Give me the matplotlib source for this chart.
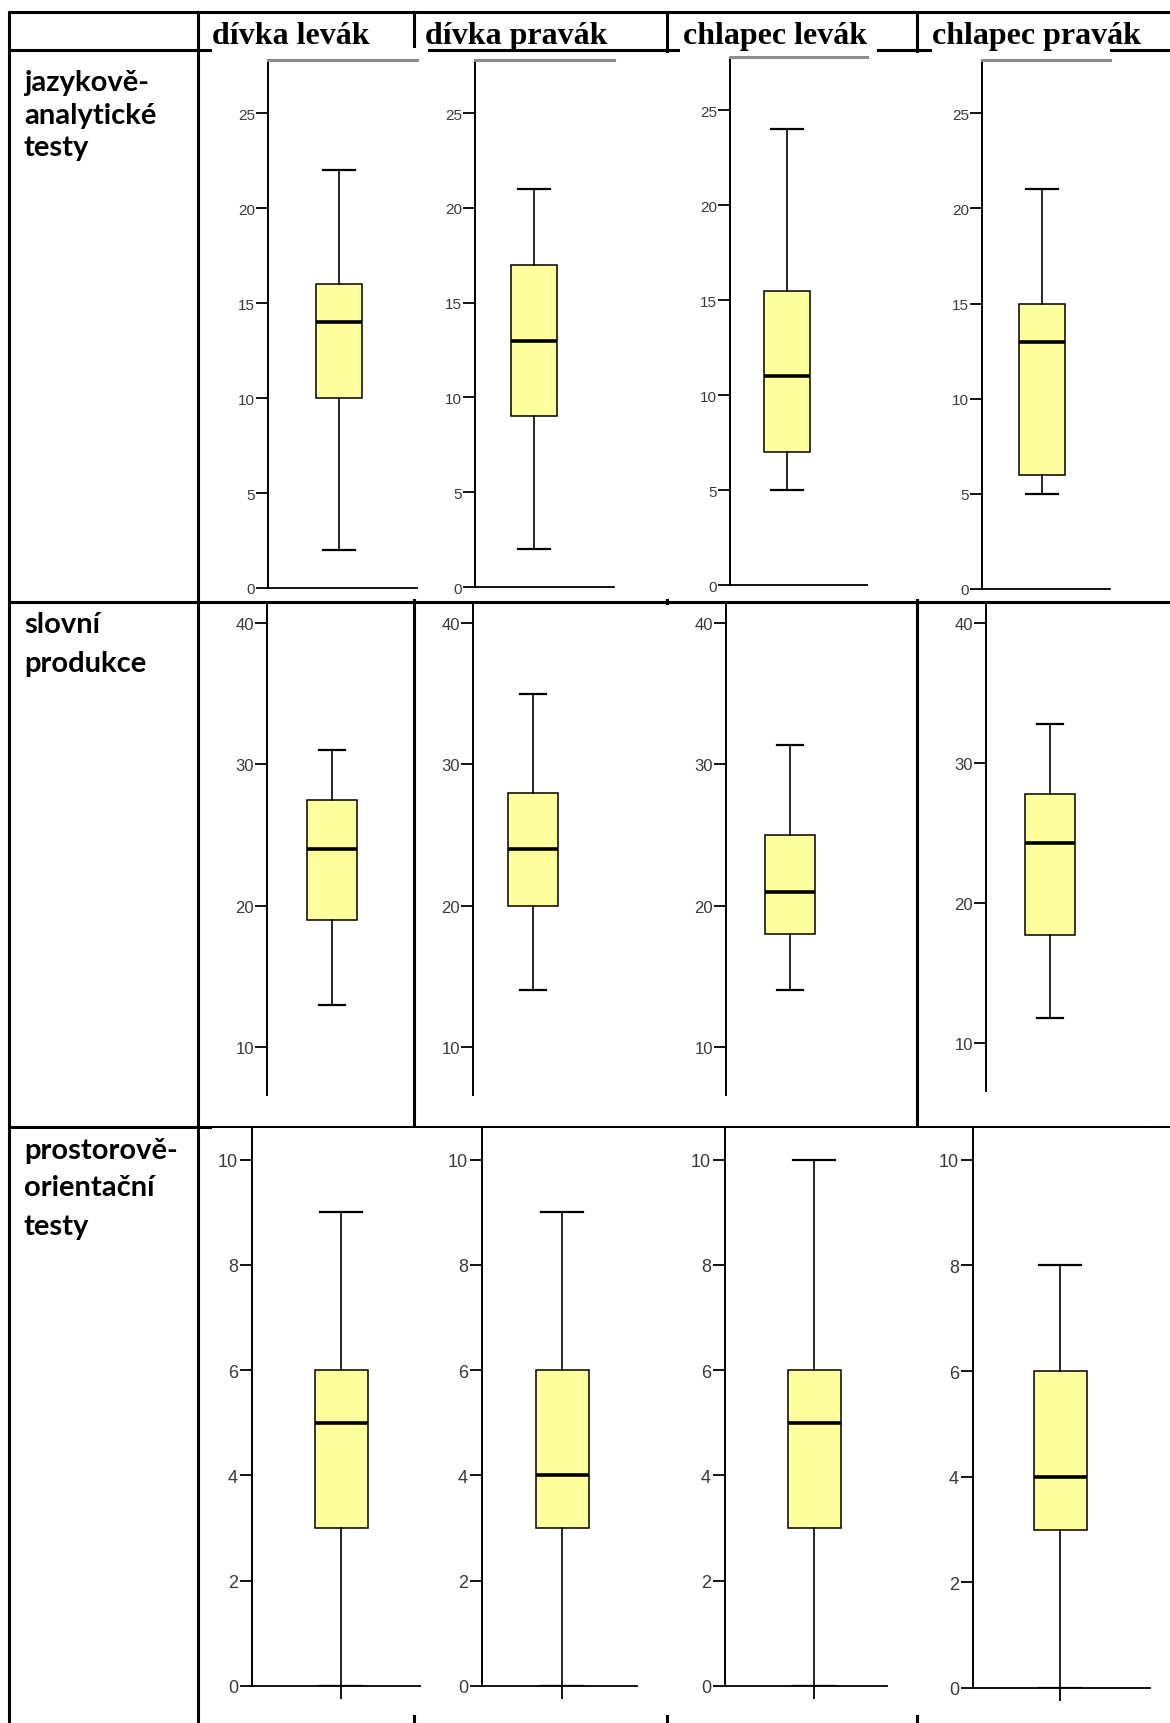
import matplotlib.pyplot as plt
from matplotlib.lines import Line2D
from matplotlib.patches import Rectangle

W, H = 1170, 1724

columns = ["dívka levák", "dívka pravák", "chlapec levák", "chlapec pravák"]
row_labels = [["jazykově-", "analytické", "testy"],
              ["slovní", "produkce"],
              ["prostorově-", "orientační", "testy"]]

# box statistics, one list per row (order of columns as above)
jazyk_lo = [2, 2, 5, 5]
jazyk_q1 = [10, 9, 7, 6]
jazyk_med = [14, 13, 11, 13]
jazyk_q3 = [16, 17, 15.5, 15]
jazyk_hi = [22, 21, 24, 21]

slovni_lo = [13, 14, 14, 11.8]
slovni_q1 = [19, 20, 18, 17.7]
slovni_med = [24, 24, 21, 24.3]
slovni_q3 = [27.5, 28, 25, 27.8]
slovni_hi = [31, 35, 31.4, 32.8]

prostor_lo = [0, 0, 0, 0]
prostor_q1 = [3, 3, 3, 3]
prostor_med = [5, 4, 5, 4]
prostor_q3 = [6, 6, 6, 6]
prostor_hi = [9, 9, 10, 8]

yticks = [range(0, 30, 5), range(10, 50, 10), range(0, 12, 2)]
ylims = [(0, 27.8), (6.6, 41.5), (0, 10.6)]

stats = [
    (jazyk_lo, jazyk_q1, jazyk_med, jazyk_q3, jazyk_hi),
    (slovni_lo, slovni_q1, slovni_med, slovni_q3, slovni_hi),
    (prostor_lo, prostor_q1, prostor_med, prostor_q3, prostor_hi),
]

# pixel layout of every small chart: y-axis x, right end, top, bottom, box centre
panel_px = [
    [(268, 417, 61, 589, 339), (475, 614, 61, 588, 534),
     (730, 867, 58, 586, 787), (982, 1110, 61, 590, 1042)],
    [(267, 417, 603, 1096, 332), (473, 617, 603, 1096, 533),
     (726, 870, 603, 1096, 790), (986, 1130, 603, 1092, 1050)],
    [(252, 420, 1129, 1687, 341), (482, 637, 1129, 1687, 562),
     (725, 887, 1129, 1687, 814), (973, 1150, 1129, 1689, 1060)],
]
box_w = [46, 50, 53]
cap_w = [32, 26, 42]
tick_size = [11, 12, 13]
tick_len = [8.5, 8.5, 9]

# white picture frames that sit on top of the table grid (x0, x1, top, bottom)
frames = [
    (212, 428, 49, 600), (428, 680, 54, 600), (680, 877, 49, 600),
    (877, 932, 54, 600), (932, 1110, 49, 600),
    (212, 383, 606, 1127), (428, 626, 606, 1127), (626, 877, 606, 1127),
    (932, 1150, 606, 1127),
    (212, 428, 1129, 1716), (428, 680, 1129, 1716), (680, 920, 1129, 1716),
    (920, 1170, 1129, 1716),
]

fig = plt.figure(figsize=(W / 100, H / 100), dpi=100)


def fx(x):
    return x / W


def fy(y):
    return 1 - y / H


def hline(y, x0, x1, lw=2.2):
    fig.add_artist(Line2D([fx(x0), fx(x1)], [fy(y), fy(y)], color="black",
                          lw=lw, zorder=1, solid_capstyle="butt"))


def vline(x, y0, y1, lw=2.2):
    fig.add_artist(Line2D([fx(x), fx(x)], [fy(y0), fy(y1)], color="black",
                          lw=lw, zorder=1, solid_capstyle="butt"))


# table grid
col_x = [9, 198, 414, 667, 917]
row_y = [13, 51, 603, 1128]
for y in row_y:
    hline(y, 8, W)
for x in col_x:
    vline(x, 12, H)

for x0, x1, t0, b0 in frames:
    fig.add_artist(Rectangle((fx(x0), fy(b0)), fx(x1 - x0), (b0 - t0) / H,
                             transform=fig.transFigure, facecolor="white",
                             edgecolor="none", zorder=2))

# column headers
header_x = [212, 425, 683, 932]
for x, name in zip(header_x, columns):
    fig.text(fx(x), fy(44), name, family="Liberation Serif", weight="bold",
             fontsize=23, ha="left", va="baseline", zorder=4)

# row labels, one baseline per line
label_base = [[91, 124, 156], [633, 672], [1159, 1196, 1235]]
for lines, bases in zip(row_labels, label_base):
    for text, y in zip(lines, bases):
        fig.text(fx(24), fy(y), text, family="Lato", weight="bold",
                 fontsize=21, ha="left", va="baseline", zorder=4)

for r in range(3):
    lo, q1, med, q3, hi = stats[r]
    for c in range(4):
        left, right, top, bottom, centre = panel_px[r][c]
        ax = fig.add_axes([fx(left), fy(bottom), fx(right - left), (bottom - top) / H])
        ax.set_zorder(3)
        ax.patch.set_visible(False)
        ax.bxp([dict(whislo=lo[c], q1=q1[c], med=med[c], q3=q3[c], whishi=hi[c])],
               positions=[centre - left], widths=[box_w[r]], capwidths=[cap_w[r]],
               patch_artist=True, showfliers=False,
               boxprops=dict(facecolor="#ffff9e", edgecolor="black", lw=1.1),
               medianprops=dict(color="black", lw=2.6),
               whiskerprops=dict(color="black", lw=1.2),
               capprops=dict(color="black", lw=1.6))
        ax.set_xlim(0, right - left)
        ax.set_ylim(*ylims[r])
        ax.set_yticks(list(yticks[r]))
        ax.tick_params(axis="y", direction="out", length=tick_len[r], width=1.3,
                       labelsize=tick_size[r], labelcolor="#3a3a3a", pad=1)
        for lab in ax.get_yticklabels():
            lab.set_family("Liberation Sans")
        ax.spines["right"].set_visible(False)
        ax.spines["left"].set_linewidth(1.4)
        if r == 0:
            ax.spines["top"].set_color("#8c8c8c")
            ax.spines["top"].set_linewidth(2.2)
            ax.spines["bottom"].set_linewidth(1.3)
            ax.set_xticks([])
        elif r == 1:
            ax.spines["top"].set_visible(False)
            ax.spines["bottom"].set_visible(False)
            ax.set_xticks([])
        else:
            ax.spines["top"].set_visible(False)
            ax.spines["bottom"].set_linewidth(1.3)
            ax.set_xticks([centre - left])
            ax.set_xticklabels([])
            ax.tick_params(axis="x", direction="out", length=9, width=1.3)

fig.savefig("out.png", dpi=100)
